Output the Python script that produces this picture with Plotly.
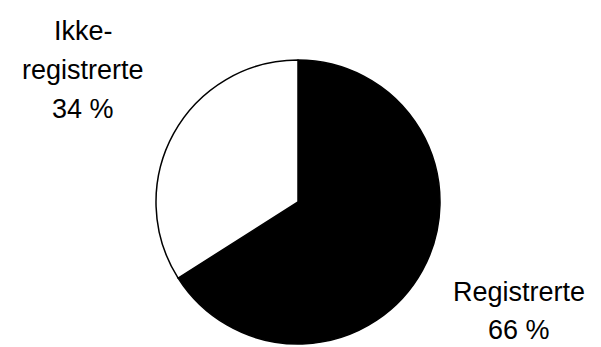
import plotly.graph_objects as go

labels = ["Registrerte", "Ikke-registrerte"]
values = [66, 34]
colors = ["#000000", "#ffffff"]
label_lines = [["Registrerte", "66 %"], ["Ikke-", "registrerte", "34 %"]]

W, H = 601, 347
cx, cy, r = 298, 202, 142

fig = go.Figure(go.Pie(
    labels=labels, values=values, sort=False, direction="clockwise", rotation=0,
    marker=dict(colors=colors, line=dict(color="#000000", width=1.5)),
    textinfo="none", hoverinfo="label+percent", showlegend=False,
    domain=dict(x=[(cx - r) / W, (cx + r) / W], y=[(H - cy - r) / H, (H - cy + r) / H]),
))

# label block centre x, first line centre y, line spacing (px)
ann_pos = [(519, 292, 38), (83, 31, 39)]
for lines, (ax, ay, dy) in zip(label_lines, ann_pos):
    for i, ln in enumerate(lines):
        fig.add_annotation(text=ln, x=ax / W, y=(H - (ay + i * dy)) / H,
                           xref="paper", yref="paper", borderpad=0,
                           xanchor="center", yanchor="middle", showarrow=False,
                           font=dict(family="Liberation Sans, Arial", size=27, color="#000000"))

fig.update_layout(width=W, height=H, margin=dict(l=0, r=0, t=0, b=0),
                  paper_bgcolor="white", plot_bgcolor="white")
fig.write_html("out.html")
